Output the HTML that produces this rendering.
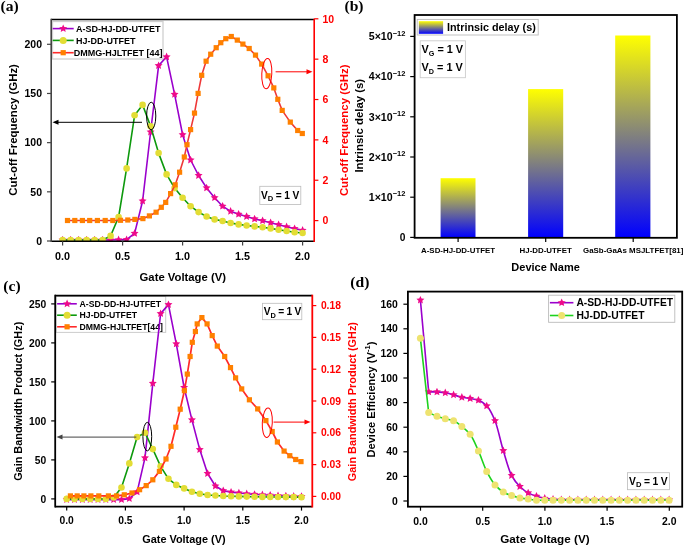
<!DOCTYPE html>
<html><head><meta charset="utf-8"><style>
html,body{margin:0;padding:0;background:#fff;}
svg{display:block;will-change:transform;}

</style></head><body>
<svg width="685" height="547" viewBox="0 0 685 547">
<rect width="685" height="547" fill="#fff"/>
<defs><clipPath id="ca"><rect x="51.20" y="19.60" width="263.00" height="221.60"/></clipPath></defs>
<rect x="52.50" y="21.50" width="110.50" height="37.50" fill="#ffffff" stroke="#d0d0d0" stroke-width="1.30"/>
<line x1="52.70" y1="28.60" x2="73.70" y2="28.60" stroke="#9a00cc" stroke-width="1.60"/>
<path d="M63.20,24.40 L64.38,26.97 L67.19,27.30 L65.12,29.22 L65.67,32.00 L63.20,30.62 L60.73,32.00 L61.28,29.22 L59.21,27.30 L62.02,26.97Z" fill="#ee0a8a"/>
<text x="75.90" y="31.90" font-size="9.00" font-family="Liberation Sans, sans-serif" font-weight="bold" fill="#000" text-anchor="start" >A-SD-HJ-DD-UTFET</text>
<line x1="52.70" y1="40.40" x2="73.70" y2="40.40" stroke="#0d990d" stroke-width="1.60"/>
<circle cx="63.20" cy="40.40" r="3.50" fill="#e3dd35"/>
<text x="75.90" y="43.70" font-size="9.00" font-family="Liberation Sans, sans-serif" font-weight="bold" fill="#000" text-anchor="start" >HJ-DD-UTFET</text>
<line x1="52.70" y1="52.70" x2="73.70" y2="52.70" stroke="#ff2a2a" stroke-width="1.60"/>
<rect x="60.60" y="50.10" width="5.20" height="5.20" fill="#ff8000"/>
<text x="73.70" y="56.00" font-size="9.00" font-family="Liberation Sans, sans-serif" font-weight="bold" fill="#000" text-anchor="start" >DMMG-HJLTFET [44]</text>
<g clip-path="url(#ca)">
<polyline points="62.60,240.00 70.60,240.00 78.60,240.00 86.60,240.00 94.60,240.00 102.60,240.00 110.60,240.00 118.60,239.80 126.60,239.60 134.60,233.40 142.60,201.00 150.60,132.00 158.60,65.60 166.60,56.80 174.60,94.30 182.60,134.70 190.60,160.00 198.60,175.50 206.60,187.90 214.60,197.70 222.60,206.20 230.60,211.30 238.60,214.20 246.60,216.50 254.60,218.90 262.60,220.70 270.60,222.70 278.60,224.70 286.60,226.80 294.60,228.60 302.60,230.30" fill="none" stroke="#9a00cc" stroke-width="1.60" stroke-linejoin="round"/>
<path d="M62.60,235.80 L63.78,238.37 L66.59,238.70 L64.52,240.62 L65.07,243.40 L62.60,242.02 L60.13,243.40 L60.68,240.62 L58.61,238.70 L61.42,238.37ZM70.60,235.80 L71.78,238.37 L74.59,238.70 L72.52,240.62 L73.07,243.40 L70.60,242.02 L68.13,243.40 L68.68,240.62 L66.61,238.70 L69.42,238.37ZM78.60,235.80 L79.78,238.37 L82.59,238.70 L80.52,240.62 L81.07,243.40 L78.60,242.02 L76.13,243.40 L76.68,240.62 L74.61,238.70 L77.42,238.37ZM86.60,235.80 L87.78,238.37 L90.59,238.70 L88.52,240.62 L89.07,243.40 L86.60,242.02 L84.13,243.40 L84.68,240.62 L82.61,238.70 L85.42,238.37ZM94.60,235.80 L95.78,238.37 L98.59,238.70 L96.52,240.62 L97.07,243.40 L94.60,242.02 L92.13,243.40 L92.68,240.62 L90.61,238.70 L93.42,238.37ZM102.60,235.80 L103.78,238.37 L106.59,238.70 L104.52,240.62 L105.07,243.40 L102.60,242.02 L100.13,243.40 L100.68,240.62 L98.61,238.70 L101.42,238.37ZM110.60,235.80 L111.78,238.37 L114.59,238.70 L112.52,240.62 L113.07,243.40 L110.60,242.02 L108.13,243.40 L108.68,240.62 L106.61,238.70 L109.42,238.37ZM118.60,235.60 L119.78,238.17 L122.59,238.50 L120.52,240.42 L121.07,243.20 L118.60,241.82 L116.13,243.20 L116.68,240.42 L114.61,238.50 L117.42,238.17ZM126.60,235.40 L127.78,237.97 L130.59,238.30 L128.52,240.22 L129.07,243.00 L126.60,241.62 L124.13,243.00 L124.68,240.22 L122.61,238.30 L125.42,237.97ZM134.60,229.20 L135.78,231.77 L138.59,232.10 L136.52,234.02 L137.07,236.80 L134.60,235.42 L132.13,236.80 L132.68,234.02 L130.61,232.10 L133.42,231.77ZM142.60,196.80 L143.78,199.37 L146.59,199.70 L144.52,201.62 L145.07,204.40 L142.60,203.02 L140.13,204.40 L140.68,201.62 L138.61,199.70 L141.42,199.37ZM150.60,127.80 L151.78,130.37 L154.59,130.70 L152.52,132.62 L153.07,135.40 L150.60,134.02 L148.13,135.40 L148.68,132.62 L146.61,130.70 L149.42,130.37ZM158.60,61.40 L159.78,63.97 L162.59,64.30 L160.52,66.22 L161.07,69.00 L158.60,67.62 L156.13,69.00 L156.68,66.22 L154.61,64.30 L157.42,63.97ZM166.60,52.60 L167.78,55.17 L170.59,55.50 L168.52,57.42 L169.07,60.20 L166.60,58.82 L164.13,60.20 L164.68,57.42 L162.61,55.50 L165.42,55.17ZM174.60,90.10 L175.78,92.67 L178.59,93.00 L176.52,94.92 L177.07,97.70 L174.60,96.32 L172.13,97.70 L172.68,94.92 L170.61,93.00 L173.42,92.67ZM182.60,130.50 L183.78,133.07 L186.59,133.40 L184.52,135.32 L185.07,138.10 L182.60,136.72 L180.13,138.10 L180.68,135.32 L178.61,133.40 L181.42,133.07ZM190.60,155.80 L191.78,158.37 L194.59,158.70 L192.52,160.62 L193.07,163.40 L190.60,162.02 L188.13,163.40 L188.68,160.62 L186.61,158.70 L189.42,158.37ZM198.60,171.30 L199.78,173.87 L202.59,174.20 L200.52,176.12 L201.07,178.90 L198.60,177.52 L196.13,178.90 L196.68,176.12 L194.61,174.20 L197.42,173.87ZM206.60,183.70 L207.78,186.27 L210.59,186.60 L208.52,188.52 L209.07,191.30 L206.60,189.92 L204.13,191.30 L204.68,188.52 L202.61,186.60 L205.42,186.27ZM214.60,193.50 L215.78,196.07 L218.59,196.40 L216.52,198.32 L217.07,201.10 L214.60,199.72 L212.13,201.10 L212.68,198.32 L210.61,196.40 L213.42,196.07ZM222.60,202.00 L223.78,204.57 L226.59,204.90 L224.52,206.82 L225.07,209.60 L222.60,208.22 L220.13,209.60 L220.68,206.82 L218.61,204.90 L221.42,204.57ZM230.60,207.10 L231.78,209.67 L234.59,210.00 L232.52,211.92 L233.07,214.70 L230.60,213.32 L228.13,214.70 L228.68,211.92 L226.61,210.00 L229.42,209.67ZM238.60,210.00 L239.78,212.57 L242.59,212.90 L240.52,214.82 L241.07,217.60 L238.60,216.22 L236.13,217.60 L236.68,214.82 L234.61,212.90 L237.42,212.57ZM246.60,212.30 L247.78,214.87 L250.59,215.20 L248.52,217.12 L249.07,219.90 L246.60,218.52 L244.13,219.90 L244.68,217.12 L242.61,215.20 L245.42,214.87ZM254.60,214.70 L255.78,217.27 L258.59,217.60 L256.52,219.52 L257.07,222.30 L254.60,220.92 L252.13,222.30 L252.68,219.52 L250.61,217.60 L253.42,217.27ZM262.60,216.50 L263.78,219.07 L266.59,219.40 L264.52,221.32 L265.07,224.10 L262.60,222.72 L260.13,224.10 L260.68,221.32 L258.61,219.40 L261.42,219.07ZM270.60,218.50 L271.78,221.07 L274.59,221.40 L272.52,223.32 L273.07,226.10 L270.60,224.72 L268.13,226.10 L268.68,223.32 L266.61,221.40 L269.42,221.07ZM278.60,220.50 L279.78,223.07 L282.59,223.40 L280.52,225.32 L281.07,228.10 L278.60,226.72 L276.13,228.10 L276.68,225.32 L274.61,223.40 L277.42,223.07ZM286.60,222.60 L287.78,225.17 L290.59,225.50 L288.52,227.42 L289.07,230.20 L286.60,228.82 L284.13,230.20 L284.68,227.42 L282.61,225.50 L285.42,225.17ZM294.60,224.40 L295.78,226.97 L298.59,227.30 L296.52,229.22 L297.07,232.00 L294.60,230.62 L292.13,232.00 L292.68,229.22 L290.61,227.30 L293.42,226.97ZM302.60,226.10 L303.78,228.67 L306.59,229.00 L304.52,230.92 L305.07,233.70 L302.60,232.32 L300.13,233.70 L300.68,230.92 L298.61,229.00 L301.42,228.67Z" fill="#ee0a8a"/>
<polyline points="62.60,240.00 70.60,240.00 78.60,240.00 86.60,240.00 94.60,240.00 102.60,240.00 110.60,235.90 118.60,217.00 126.60,168.40 134.60,115.30 142.60,104.90 150.60,126.30 158.60,153.10 166.60,174.40 174.60,188.10 182.60,197.70 190.60,206.20 198.60,212.10 206.60,216.50 214.60,219.40 222.60,221.00 230.60,223.00 238.60,224.40 246.60,225.50 254.60,226.40 262.60,227.30 270.60,228.40 278.60,229.70 286.60,231.00 294.60,232.30 302.60,233.00" fill="none" stroke="#0d990d" stroke-width="1.60" stroke-linejoin="round"/>
<circle cx="62.60" cy="240.00" r="3.30" fill="#e3dd35"/>
<circle cx="70.60" cy="240.00" r="3.30" fill="#e3dd35"/>
<circle cx="78.60" cy="240.00" r="3.30" fill="#e3dd35"/>
<circle cx="86.60" cy="240.00" r="3.30" fill="#e3dd35"/>
<circle cx="94.60" cy="240.00" r="3.30" fill="#e3dd35"/>
<circle cx="102.60" cy="240.00" r="3.30" fill="#e3dd35"/>
<circle cx="110.60" cy="235.90" r="3.30" fill="#e3dd35"/>
<circle cx="118.60" cy="217.00" r="3.30" fill="#e3dd35"/>
<circle cx="126.60" cy="168.40" r="3.30" fill="#e3dd35"/>
<circle cx="134.60" cy="115.30" r="3.30" fill="#e3dd35"/>
<circle cx="142.60" cy="104.90" r="3.30" fill="#e3dd35"/>
<circle cx="150.60" cy="126.30" r="3.30" fill="#e3dd35"/>
<circle cx="158.60" cy="153.10" r="3.30" fill="#e3dd35"/>
<circle cx="166.60" cy="174.40" r="3.30" fill="#e3dd35"/>
<circle cx="174.60" cy="188.10" r="3.30" fill="#e3dd35"/>
<circle cx="182.60" cy="197.70" r="3.30" fill="#e3dd35"/>
<circle cx="190.60" cy="206.20" r="3.30" fill="#e3dd35"/>
<circle cx="198.60" cy="212.10" r="3.30" fill="#e3dd35"/>
<circle cx="206.60" cy="216.50" r="3.30" fill="#e3dd35"/>
<circle cx="214.60" cy="219.40" r="3.30" fill="#e3dd35"/>
<circle cx="222.60" cy="221.00" r="3.30" fill="#e3dd35"/>
<circle cx="230.60" cy="223.00" r="3.30" fill="#e3dd35"/>
<circle cx="238.60" cy="224.40" r="3.30" fill="#e3dd35"/>
<circle cx="246.60" cy="225.50" r="3.30" fill="#e3dd35"/>
<circle cx="254.60" cy="226.40" r="3.30" fill="#e3dd35"/>
<circle cx="262.60" cy="227.30" r="3.30" fill="#e3dd35"/>
<circle cx="270.60" cy="228.40" r="3.30" fill="#e3dd35"/>
<circle cx="278.60" cy="229.70" r="3.30" fill="#e3dd35"/>
<circle cx="286.60" cy="231.00" r="3.30" fill="#e3dd35"/>
<circle cx="294.60" cy="232.30" r="3.30" fill="#e3dd35"/>
<circle cx="302.60" cy="233.00" r="3.30" fill="#e3dd35"/>
<polyline points="67.50,220.50 74.80,220.50 82.40,220.50 89.70,220.50 97.40,220.50 105.20,220.50 112.80,220.50 120.50,220.30 127.80,220.00 134.90,219.40 142.90,218.60 149.40,215.90 156.10,212.20 161.30,207.30 165.70,202.40 170.60,193.60 175.20,184.80 179.60,172.20 184.30,157.00 187.00,144.70 190.60,129.60 194.50,113.10 198.10,93.40 201.70,75.30 206.10,61.20 210.70,54.20 216.20,47.70 220.80,42.70 225.80,38.70 231.30,36.50 237.30,40.10 242.90,44.10 249.20,48.50 255.50,55.10 261.70,64.10 268.10,75.80 273.80,87.90 277.80,99.30 282.20,110.40 290.30,122.10 297.70,130.50 302.30,133.50" fill="none" stroke="#ee3838" stroke-width="1.60" stroke-linejoin="round"/>
<rect x="64.90" y="217.90" width="5.20" height="5.20" fill="#ff8000"/>
<rect x="72.20" y="217.90" width="5.20" height="5.20" fill="#ff8000"/>
<rect x="79.80" y="217.90" width="5.20" height="5.20" fill="#ff8000"/>
<rect x="87.10" y="217.90" width="5.20" height="5.20" fill="#ff8000"/>
<rect x="94.80" y="217.90" width="5.20" height="5.20" fill="#ff8000"/>
<rect x="102.60" y="217.90" width="5.20" height="5.20" fill="#ff8000"/>
<rect x="110.20" y="217.90" width="5.20" height="5.20" fill="#ff8000"/>
<rect x="117.90" y="217.70" width="5.20" height="5.20" fill="#ff8000"/>
<rect x="125.20" y="217.40" width="5.20" height="5.20" fill="#ff8000"/>
<rect x="132.30" y="216.80" width="5.20" height="5.20" fill="#ff8000"/>
<rect x="140.30" y="216.00" width="5.20" height="5.20" fill="#ff8000"/>
<rect x="146.80" y="213.30" width="5.20" height="5.20" fill="#ff8000"/>
<rect x="153.50" y="209.60" width="5.20" height="5.20" fill="#ff8000"/>
<rect x="158.70" y="204.70" width="5.20" height="5.20" fill="#ff8000"/>
<rect x="163.10" y="199.80" width="5.20" height="5.20" fill="#ff8000"/>
<rect x="168.00" y="191.00" width="5.20" height="5.20" fill="#ff8000"/>
<rect x="172.60" y="182.20" width="5.20" height="5.20" fill="#ff8000"/>
<rect x="177.00" y="169.60" width="5.20" height="5.20" fill="#ff8000"/>
<rect x="181.70" y="154.40" width="5.20" height="5.20" fill="#ff8000"/>
<rect x="184.40" y="142.10" width="5.20" height="5.20" fill="#ff8000"/>
<rect x="188.00" y="127.00" width="5.20" height="5.20" fill="#ff8000"/>
<rect x="191.90" y="110.50" width="5.20" height="5.20" fill="#ff8000"/>
<rect x="195.50" y="90.80" width="5.20" height="5.20" fill="#ff8000"/>
<rect x="199.10" y="72.70" width="5.20" height="5.20" fill="#ff8000"/>
<rect x="203.50" y="58.60" width="5.20" height="5.20" fill="#ff8000"/>
<rect x="208.10" y="51.60" width="5.20" height="5.20" fill="#ff8000"/>
<rect x="213.60" y="45.10" width="5.20" height="5.20" fill="#ff8000"/>
<rect x="218.20" y="40.10" width="5.20" height="5.20" fill="#ff8000"/>
<rect x="223.20" y="36.10" width="5.20" height="5.20" fill="#ff8000"/>
<rect x="228.70" y="33.90" width="5.20" height="5.20" fill="#ff8000"/>
<rect x="234.70" y="37.50" width="5.20" height="5.20" fill="#ff8000"/>
<rect x="240.30" y="41.50" width="5.20" height="5.20" fill="#ff8000"/>
<rect x="246.60" y="45.90" width="5.20" height="5.20" fill="#ff8000"/>
<rect x="252.90" y="52.50" width="5.20" height="5.20" fill="#ff8000"/>
<rect x="259.10" y="61.50" width="5.20" height="5.20" fill="#ff8000"/>
<rect x="265.50" y="73.20" width="5.20" height="5.20" fill="#ff8000"/>
<rect x="271.20" y="85.30" width="5.20" height="5.20" fill="#ff8000"/>
<rect x="275.20" y="96.70" width="5.20" height="5.20" fill="#ff8000"/>
<rect x="279.60" y="107.80" width="5.20" height="5.20" fill="#ff8000"/>
<rect x="287.70" y="119.50" width="5.20" height="5.20" fill="#ff8000"/>
<rect x="295.10" y="127.90" width="5.20" height="5.20" fill="#ff8000"/>
<rect x="299.70" y="130.90" width="5.20" height="5.20" fill="#ff8000"/>
</g>
<line x1="51.20" y1="19.60" x2="314.20" y2="19.60" stroke="#000" stroke-width="1.50"/>
<line x1="51.20" y1="241.20" x2="314.20" y2="241.20" stroke="#000" stroke-width="1.50"/>
<line x1="51.20" y1="18.85" x2="51.20" y2="241.95" stroke="#444" stroke-width="1.60"/>
<line x1="314.20" y1="18.85" x2="314.20" y2="241.95" stroke="#ff0000" stroke-width="1.60"/>
<line x1="47.00" y1="241.00" x2="51.20" y2="241.00" stroke="#444" stroke-width="1.20"/>
<text x="42.00" y="244.80" font-size="10.50" font-family="Liberation Sans, sans-serif" font-weight="bold" fill="#000" text-anchor="end" >0</text>
<line x1="47.00" y1="191.82" x2="51.20" y2="191.82" stroke="#444" stroke-width="1.20"/>
<text x="42.00" y="195.62" font-size="10.50" font-family="Liberation Sans, sans-serif" font-weight="bold" fill="#000" text-anchor="end" >50</text>
<line x1="47.00" y1="142.65" x2="51.20" y2="142.65" stroke="#444" stroke-width="1.20"/>
<text x="42.00" y="146.45" font-size="10.50" font-family="Liberation Sans, sans-serif" font-weight="bold" fill="#000" text-anchor="end" >100</text>
<line x1="47.00" y1="93.47" x2="51.20" y2="93.47" stroke="#444" stroke-width="1.20"/>
<text x="42.00" y="97.27" font-size="10.50" font-family="Liberation Sans, sans-serif" font-weight="bold" fill="#000" text-anchor="end" >150</text>
<line x1="47.00" y1="44.30" x2="51.20" y2="44.30" stroke="#444" stroke-width="1.20"/>
<text x="42.00" y="48.10" font-size="10.50" font-family="Liberation Sans, sans-serif" font-weight="bold" fill="#000" text-anchor="end" >200</text>
<line x1="314.20" y1="220.60" x2="318.40" y2="220.60" stroke="#ff0000" stroke-width="1.20"/>
<text x="322.50" y="224.40" font-size="10.50" font-family="Liberation Sans, sans-serif" font-weight="bold" fill="#ff0000" text-anchor="start" >0</text>
<line x1="314.20" y1="180.24" x2="318.40" y2="180.24" stroke="#ff0000" stroke-width="1.20"/>
<text x="322.50" y="184.04" font-size="10.50" font-family="Liberation Sans, sans-serif" font-weight="bold" fill="#ff0000" text-anchor="start" >2</text>
<line x1="314.20" y1="139.88" x2="318.40" y2="139.88" stroke="#ff0000" stroke-width="1.20"/>
<text x="322.50" y="143.68" font-size="10.50" font-family="Liberation Sans, sans-serif" font-weight="bold" fill="#ff0000" text-anchor="start" >4</text>
<line x1="314.20" y1="99.52" x2="318.40" y2="99.52" stroke="#ff0000" stroke-width="1.20"/>
<text x="322.50" y="103.32" font-size="10.50" font-family="Liberation Sans, sans-serif" font-weight="bold" fill="#ff0000" text-anchor="start" >6</text>
<line x1="314.20" y1="59.16" x2="318.40" y2="59.16" stroke="#ff0000" stroke-width="1.20"/>
<text x="322.50" y="62.96" font-size="10.50" font-family="Liberation Sans, sans-serif" font-weight="bold" fill="#ff0000" text-anchor="start" >8</text>
<line x1="314.20" y1="18.80" x2="318.40" y2="18.80" stroke="#ff0000" stroke-width="1.20"/>
<text x="322.50" y="22.60" font-size="10.50" font-family="Liberation Sans, sans-serif" font-weight="bold" fill="#ff0000" text-anchor="start" >10</text>
<line x1="62.60" y1="241.20" x2="62.60" y2="245.50" stroke="#444" stroke-width="1.20"/>
<text x="62.60" y="259.70" font-size="10.80" font-family="Liberation Sans, sans-serif" font-weight="bold" fill="#000" text-anchor="middle" >0.0</text>
<line x1="122.60" y1="241.20" x2="122.60" y2="245.50" stroke="#444" stroke-width="1.20"/>
<text x="122.60" y="259.70" font-size="10.80" font-family="Liberation Sans, sans-serif" font-weight="bold" fill="#000" text-anchor="middle" >0.5</text>
<line x1="182.60" y1="241.20" x2="182.60" y2="245.50" stroke="#444" stroke-width="1.20"/>
<text x="182.60" y="259.70" font-size="10.80" font-family="Liberation Sans, sans-serif" font-weight="bold" fill="#000" text-anchor="middle" >1.0</text>
<line x1="242.60" y1="241.20" x2="242.60" y2="245.50" stroke="#444" stroke-width="1.20"/>
<text x="242.60" y="259.70" font-size="10.80" font-family="Liberation Sans, sans-serif" font-weight="bold" fill="#000" text-anchor="middle" >1.5</text>
<line x1="302.60" y1="241.20" x2="302.60" y2="245.50" stroke="#444" stroke-width="1.20"/>
<text x="302.60" y="259.70" font-size="10.80" font-family="Liberation Sans, sans-serif" font-weight="bold" fill="#000" text-anchor="middle" >2.0</text>
<text x="182.80" y="280.60" font-size="11.30" font-family="Liberation Sans, sans-serif" font-weight="bold" fill="#000" text-anchor="middle" >Gate Voltage (V)</text>
<text x="0" y="0" font-size="11.40" font-family="Liberation Sans, sans-serif" font-weight="bold" fill="#000" text-anchor="middle" transform="translate(16.80,129.90) rotate(-90)">Cut-off Frequency (GHz)</text>
<text x="0" y="0" font-size="11.40" font-family="Liberation Sans, sans-serif" font-weight="bold" fill="#ff0000" text-anchor="middle" transform="translate(348.30,130.30) rotate(-90)">Cut-off Frequency (GHz)</text>
<text x="0.50" y="11.00" font-size="15.60" font-family="Liberation Serif, serif" font-weight="bold" fill="#000" text-anchor="start" >(a)</text>
<rect x="259.80" y="186.30" width="41.00" height="18.10" fill="#ffffff" stroke="#bbbbbb" stroke-width="0.80"/>
<text x="260.90" y="198.60" font-size="10.20" font-family="Liberation Sans, sans-serif" font-weight="bold" fill="#000" text-anchor="start" word-spacing="-0.3">V<tspan font-size="7.6" dy="2.8">D</tspan><tspan dy="-2.8"> = 1 V</tspan></text>
<ellipse cx="151.2" cy="116" rx="4.6" ry="13.8" fill="none" stroke="#000" stroke-width="1"/>
<line x1="56.00" y1="122.30" x2="142.00" y2="122.30" stroke="#000" stroke-width="1.00"/>
<path d="M52.5,122.3 L58.5,119.8 L58.5,124.8Z" fill="#000"/>
<ellipse cx="266.8" cy="73.7" rx="5.0" ry="15.1" fill="none" stroke="#ff0000" stroke-width="1" transform="rotate(3 266.8 73.7)"/>
<line x1="275.60" y1="71.80" x2="308.00" y2="71.80" stroke="#ff0000" stroke-width="1.00"/>
<path d="M312.5,71.8 L306.5,69.3 L306.5,74.3Z" fill="#ff0000"/>
<defs><linearGradient id="gb" x1="0" y1="0" x2="0" y2="1"><stop offset="0" stop-color="#ffff00"/><stop offset="1" stop-color="#0000ff"/></linearGradient></defs>
<rect x="440.60" y="178.20" width="34.90" height="59.60" fill="url(#gb)" stroke="none" stroke-width="1.00"/>
<rect x="528.10" y="89.10" width="35.10" height="148.70" fill="url(#gb)" stroke="none" stroke-width="1.00"/>
<rect x="615.20" y="35.50" width="35.20" height="202.30" fill="url(#gb)" stroke="none" stroke-width="1.00"/>
<rect x="414.60" y="15.00" width="262.30" height="222.80" fill="none" stroke="#000" stroke-width="1.8"/>
<line x1="410.20" y1="237.40" x2="414.60" y2="237.40" stroke="#000" stroke-width="1.20"/>
<text x="405.40" y="240.90" font-size="10.20" font-family="Liberation Sans, sans-serif" font-weight="bold" fill="#000" text-anchor="end" >0</text>
<line x1="410.20" y1="197.20" x2="414.60" y2="197.20" stroke="#000" stroke-width="1.20"/>
<text x="405.40" y="201.00" font-size="10.60" font-family="Liberation Sans, sans-serif" font-weight="bold" fill="#000" text-anchor="end" >1&#215;10<tspan font-size="7.5" dy="-4.6">&#8722;12</tspan></text>
<line x1="410.20" y1="157.00" x2="414.60" y2="157.00" stroke="#000" stroke-width="1.20"/>
<text x="405.40" y="160.80" font-size="10.60" font-family="Liberation Sans, sans-serif" font-weight="bold" fill="#000" text-anchor="end" >2&#215;10<tspan font-size="7.5" dy="-4.6">&#8722;12</tspan></text>
<line x1="410.20" y1="116.80" x2="414.60" y2="116.80" stroke="#000" stroke-width="1.20"/>
<text x="405.40" y="120.60" font-size="10.60" font-family="Liberation Sans, sans-serif" font-weight="bold" fill="#000" text-anchor="end" >3&#215;10<tspan font-size="7.5" dy="-4.6">&#8722;12</tspan></text>
<line x1="410.20" y1="76.60" x2="414.60" y2="76.60" stroke="#000" stroke-width="1.20"/>
<text x="405.40" y="80.40" font-size="10.60" font-family="Liberation Sans, sans-serif" font-weight="bold" fill="#000" text-anchor="end" >4&#215;10<tspan font-size="7.5" dy="-4.6">&#8722;12</tspan></text>
<line x1="410.20" y1="36.40" x2="414.60" y2="36.40" stroke="#000" stroke-width="1.20"/>
<text x="405.40" y="40.20" font-size="10.60" font-family="Liberation Sans, sans-serif" font-weight="bold" fill="#000" text-anchor="end" >5&#215;10<tspan font-size="7.5" dy="-4.6">&#8722;12</tspan></text>
<line x1="458.10" y1="237.80" x2="458.10" y2="242.00" stroke="#000" stroke-width="1.20"/>
<text x="458.10" y="252.90" font-size="7.90" font-family="Liberation Sans, sans-serif" font-weight="bold" fill="#000" text-anchor="middle" >A-SD-HJ-DD-UTFET</text>
<line x1="545.70" y1="237.80" x2="545.70" y2="242.00" stroke="#000" stroke-width="1.20"/>
<text x="545.70" y="252.90" font-size="7.90" font-family="Liberation Sans, sans-serif" font-weight="bold" fill="#000" text-anchor="middle" >HJ-DD-UTFET</text>
<line x1="633.20" y1="237.80" x2="633.20" y2="242.00" stroke="#000" stroke-width="1.20"/>
<text x="633.20" y="252.90" font-size="7.90" font-family="Liberation Sans, sans-serif" font-weight="bold" fill="#000" text-anchor="middle" >GaSb-GaAs MSJLTFET[81]</text>
<text x="545.60" y="271.30" font-size="11.00" font-family="Liberation Sans, sans-serif" font-weight="bold" fill="#000" text-anchor="middle" >Device Name</text>
<text x="0" y="0" font-size="11.40" font-family="Liberation Sans, sans-serif" font-weight="bold" fill="#000" text-anchor="middle" transform="translate(363.20,125.70) rotate(-90)">Intrinsic delay (s)</text>
<text x="344.50" y="11.00" font-size="15.60" font-family="Liberation Serif, serif" font-weight="bold" fill="#000" text-anchor="start" >(b)</text>
<rect x="417.20" y="19.40" width="121.00" height="15.60" fill="#ffffff" stroke="#bbbbbb" stroke-width="0.90"/>
<rect x="418.80" y="21.20" width="24.30" height="12.60" fill="url(#gb)" stroke="none" stroke-width="1.00"/>
<text x="447.00" y="31.10" font-size="10.80" font-family="Liberation Sans, sans-serif" font-weight="bold" fill="#000" text-anchor="start" >Intrinsic delay (s)</text>
<rect x="420.20" y="40.80" width="45.20" height="36.90" fill="#ffffff" stroke="#cccccc" stroke-width="0.90"/>
<text x="421.50" y="52.80" font-size="10.90" font-family="Liberation Sans, sans-serif" font-weight="bold" fill="#000" text-anchor="start" >V<tspan font-size="7.2" dy="2.8">G</tspan><tspan dy="-2.8"> = 1 V</tspan></text>
<text x="421.50" y="70.90" font-size="10.90" font-family="Liberation Sans, sans-serif" font-weight="bold" fill="#000" text-anchor="start" >V<tspan font-size="7.2" dy="2.8">D</tspan><tspan dy="-2.8"> = 1 V</tspan></text>
<defs><clipPath id="cc"><rect x="55.20" y="295.60" width="257.10" height="211.00"/></clipPath></defs>
<rect x="56.20" y="296.40" width="109.50" height="36.00" fill="#ffffff" stroke="#cccccc" stroke-width="1.00"/>
<line x1="57.10" y1="303.80" x2="76.80" y2="303.80" stroke="#9a00cc" stroke-width="1.60"/>
<path d="M67.10,299.60 L68.28,302.17 L71.09,302.50 L69.02,304.42 L69.57,307.20 L67.10,305.82 L64.63,307.20 L65.18,304.42 L63.11,302.50 L65.92,302.17Z" fill="#ee0a8a"/>
<text x="79.60" y="307.00" font-size="8.70" font-family="Liberation Sans, sans-serif" font-weight="bold" fill="#000" text-anchor="start" >A-SD-DD-HJ-UTFET</text>
<line x1="57.10" y1="315.20" x2="76.80" y2="315.20" stroke="#0d990d" stroke-width="1.60"/>
<circle cx="67.10" cy="315.20" r="3.50" fill="#e3dd35"/>
<text x="79.60" y="318.40" font-size="8.70" font-family="Liberation Sans, sans-serif" font-weight="bold" fill="#000" text-anchor="start" >HJ-DD-UTFET</text>
<line x1="57.10" y1="326.80" x2="76.80" y2="326.80" stroke="#ff2a2a" stroke-width="1.60"/>
<rect x="64.50" y="324.20" width="5.20" height="5.20" fill="#ff8000"/>
<text x="79.60" y="330.00" font-size="8.70" font-family="Liberation Sans, sans-serif" font-weight="bold" fill="#000" text-anchor="start" >DMMG-HJLTFET[44]</text>
<g clip-path="url(#cc)">
<polyline points="66.70,499.60 74.53,499.60 82.35,499.60 90.18,499.60 98.01,499.60 105.84,499.60 113.66,499.60 121.49,499.60 129.32,498.60 137.14,491.90 144.97,457.90 152.80,383.30 160.62,313.60 168.45,304.60 176.28,343.90 184.11,387.50 191.93,419.90 199.76,449.60 207.59,473.50 215.41,486.00 223.24,490.70 231.07,492.10 238.89,493.00 246.72,493.80 254.55,494.40 262.38,494.80 270.20,495.20 278.03,495.60 285.86,496.00 293.68,496.30 301.51,496.50" fill="none" stroke="#9a00cc" stroke-width="1.60" stroke-linejoin="round"/>
<path d="M66.70,495.40 L67.88,497.97 L70.69,498.30 L68.62,500.22 L69.17,503.00 L66.70,501.62 L64.23,503.00 L64.78,500.22 L62.71,498.30 L65.52,497.97ZM74.53,495.40 L75.71,497.97 L78.52,498.30 L76.44,500.22 L77.00,503.00 L74.53,501.62 L72.06,503.00 L72.61,500.22 L70.53,498.30 L73.34,497.97ZM82.35,495.40 L83.54,497.97 L86.35,498.30 L84.27,500.22 L84.82,503.00 L82.35,501.62 L79.89,503.00 L80.44,500.22 L78.36,498.30 L81.17,497.97ZM90.18,495.40 L91.37,497.97 L94.18,498.30 L92.10,500.22 L92.65,503.00 L90.18,501.62 L87.71,503.00 L88.26,500.22 L86.19,498.30 L89.00,497.97ZM98.01,495.40 L99.19,497.97 L102.00,498.30 L99.93,500.22 L100.48,503.00 L98.01,501.62 L95.54,503.00 L96.09,500.22 L94.01,498.30 L96.82,497.97ZM105.84,495.40 L107.02,497.97 L109.83,498.30 L107.75,500.22 L108.30,503.00 L105.84,501.62 L103.37,503.00 L103.92,500.22 L101.84,498.30 L104.65,497.97ZM113.66,495.40 L114.85,497.97 L117.66,498.30 L115.58,500.22 L116.13,503.00 L113.66,501.62 L111.19,503.00 L111.74,500.22 L109.67,498.30 L112.48,497.97ZM121.49,495.40 L122.67,497.97 L125.48,498.30 L123.41,500.22 L123.96,503.00 L121.49,501.62 L119.02,503.00 L119.57,500.22 L117.49,498.30 L120.30,497.97ZM129.32,494.40 L130.50,496.97 L133.31,497.30 L131.23,499.22 L131.78,502.00 L129.32,500.62 L126.85,502.00 L127.40,499.22 L125.32,497.30 L128.13,496.97ZM137.14,487.70 L138.33,490.27 L141.14,490.60 L139.06,492.52 L139.61,495.30 L137.14,493.92 L134.67,495.30 L135.23,492.52 L133.15,490.60 L135.96,490.27ZM144.97,453.70 L146.15,456.27 L148.96,456.60 L146.89,458.52 L147.44,461.30 L144.97,459.92 L142.50,461.30 L143.05,458.52 L140.98,456.60 L143.79,456.27ZM152.80,379.10 L153.98,381.67 L156.79,382.00 L154.71,383.92 L155.27,386.70 L152.80,385.32 L150.33,386.70 L150.88,383.92 L148.80,382.00 L151.61,381.67ZM160.62,309.40 L161.81,311.97 L164.62,312.30 L162.54,314.22 L163.09,317.00 L160.62,315.62 L158.16,317.00 L158.71,314.22 L156.63,312.30 L159.44,311.97ZM168.45,300.40 L169.64,302.97 L172.45,303.30 L170.37,305.22 L170.92,308.00 L168.45,306.62 L165.98,308.00 L166.53,305.22 L164.46,303.30 L167.27,302.97ZM176.28,339.70 L177.46,342.27 L180.27,342.60 L178.20,344.52 L178.75,347.30 L176.28,345.92 L173.81,347.30 L174.36,344.52 L172.28,342.60 L175.09,342.27ZM184.11,383.30 L185.29,385.87 L188.10,386.20 L186.02,388.12 L186.57,390.90 L184.11,389.52 L181.64,390.90 L182.19,388.12 L180.11,386.20 L182.92,385.87ZM191.93,415.70 L193.12,418.27 L195.93,418.60 L193.85,420.52 L194.40,423.30 L191.93,421.92 L189.46,423.30 L190.01,420.52 L187.94,418.60 L190.75,418.27ZM199.76,445.40 L200.94,447.97 L203.75,448.30 L201.68,450.22 L202.23,453.00 L199.76,451.62 L197.29,453.00 L197.84,450.22 L195.76,448.30 L198.57,447.97ZM207.59,469.30 L208.77,471.87 L211.58,472.20 L209.50,474.12 L210.05,476.90 L207.59,475.52 L205.12,476.90 L205.67,474.12 L203.59,472.20 L206.40,471.87ZM215.41,481.80 L216.60,484.37 L219.41,484.70 L217.33,486.62 L217.88,489.40 L215.41,488.02 L212.94,489.40 L213.50,486.62 L211.42,484.70 L214.23,484.37ZM223.24,486.50 L224.42,489.07 L227.23,489.40 L225.16,491.32 L225.71,494.10 L223.24,492.72 L220.77,494.10 L221.32,491.32 L219.25,489.40 L222.06,489.07ZM231.07,487.90 L232.25,490.47 L235.06,490.80 L232.98,492.72 L233.54,495.50 L231.07,494.12 L228.60,495.50 L229.15,492.72 L227.07,490.80 L229.88,490.47ZM238.89,488.80 L240.08,491.37 L242.89,491.70 L240.81,493.62 L241.36,496.40 L238.89,495.02 L236.43,496.40 L236.98,493.62 L234.90,491.70 L237.71,491.37ZM246.72,489.60 L247.91,492.17 L250.72,492.50 L248.64,494.42 L249.19,497.20 L246.72,495.82 L244.25,497.20 L244.80,494.42 L242.73,492.50 L245.54,492.17ZM254.55,490.20 L255.73,492.77 L258.54,493.10 L256.47,495.02 L257.02,497.80 L254.55,496.42 L252.08,497.80 L252.63,495.02 L250.55,493.10 L253.36,492.77ZM262.38,490.60 L263.56,493.17 L266.37,493.50 L264.29,495.42 L264.84,498.20 L262.38,496.82 L259.91,498.20 L260.46,495.42 L258.38,493.50 L261.19,493.17ZM270.20,491.00 L271.39,493.57 L274.20,493.90 L272.12,495.82 L272.67,498.60 L270.20,497.22 L267.73,498.60 L268.28,495.82 L266.21,493.90 L269.02,493.57ZM278.03,491.40 L279.21,493.97 L282.02,494.30 L279.95,496.22 L280.50,499.00 L278.03,497.62 L275.56,499.00 L276.11,496.22 L274.03,494.30 L276.84,493.97ZM285.86,491.80 L287.04,494.37 L289.85,494.70 L287.77,496.62 L288.32,499.40 L285.86,498.02 L283.39,499.40 L283.94,496.62 L281.86,494.70 L284.67,494.37ZM293.68,492.10 L294.87,494.67 L297.68,495.00 L295.60,496.92 L296.15,499.70 L293.68,498.32 L291.21,499.70 L291.77,496.92 L289.69,495.00 L292.50,494.67ZM301.51,492.30 L302.69,494.87 L305.50,495.20 L303.43,497.12 L303.98,499.90 L301.51,498.52 L299.04,499.90 L299.59,497.12 L297.52,495.20 L300.33,494.87Z" fill="#ee0a8a"/>
<polyline points="66.70,498.90 74.53,498.90 82.35,498.90 90.18,498.90 98.01,498.90 105.84,498.90 113.66,497.50 121.49,487.50 129.32,463.40 137.14,437.10 144.97,432.70 152.80,449.10 160.62,466.30 168.45,478.80 176.28,484.90 184.11,488.40 191.93,491.80 199.76,493.80 207.59,495.00 215.41,495.50 223.24,496.00 231.07,496.20 238.89,496.40 246.72,496.60 254.55,496.80 262.38,496.90 270.20,497.00 278.03,497.00 285.86,497.10 293.68,497.10 301.51,497.20" fill="none" stroke="#0d990d" stroke-width="1.60" stroke-linejoin="round"/>
<circle cx="66.70" cy="498.90" r="3.30" fill="#e3dd35"/>
<circle cx="74.53" cy="498.90" r="3.30" fill="#e3dd35"/>
<circle cx="82.35" cy="498.90" r="3.30" fill="#e3dd35"/>
<circle cx="90.18" cy="498.90" r="3.30" fill="#e3dd35"/>
<circle cx="98.01" cy="498.90" r="3.30" fill="#e3dd35"/>
<circle cx="105.84" cy="498.90" r="3.30" fill="#e3dd35"/>
<circle cx="113.66" cy="497.50" r="3.30" fill="#e3dd35"/>
<circle cx="121.49" cy="487.50" r="3.30" fill="#e3dd35"/>
<circle cx="129.32" cy="463.40" r="3.30" fill="#e3dd35"/>
<circle cx="137.14" cy="437.10" r="3.30" fill="#e3dd35"/>
<circle cx="144.97" cy="432.70" r="3.30" fill="#e3dd35"/>
<circle cx="152.80" cy="449.10" r="3.30" fill="#e3dd35"/>
<circle cx="160.62" cy="466.30" r="3.30" fill="#e3dd35"/>
<circle cx="168.45" cy="478.80" r="3.30" fill="#e3dd35"/>
<circle cx="176.28" cy="484.90" r="3.30" fill="#e3dd35"/>
<circle cx="184.11" cy="488.40" r="3.30" fill="#e3dd35"/>
<circle cx="191.93" cy="491.80" r="3.30" fill="#e3dd35"/>
<circle cx="199.76" cy="493.80" r="3.30" fill="#e3dd35"/>
<circle cx="207.59" cy="495.00" r="3.30" fill="#e3dd35"/>
<circle cx="215.41" cy="495.50" r="3.30" fill="#e3dd35"/>
<circle cx="223.24" cy="496.00" r="3.30" fill="#e3dd35"/>
<circle cx="231.07" cy="496.20" r="3.30" fill="#e3dd35"/>
<circle cx="238.89" cy="496.40" r="3.30" fill="#e3dd35"/>
<circle cx="246.72" cy="496.60" r="3.30" fill="#e3dd35"/>
<circle cx="254.55" cy="496.80" r="3.30" fill="#e3dd35"/>
<circle cx="262.38" cy="496.90" r="3.30" fill="#e3dd35"/>
<circle cx="270.20" cy="497.00" r="3.30" fill="#e3dd35"/>
<circle cx="278.03" cy="497.00" r="3.30" fill="#e3dd35"/>
<circle cx="285.86" cy="497.10" r="3.30" fill="#e3dd35"/>
<circle cx="293.68" cy="497.10" r="3.30" fill="#e3dd35"/>
<circle cx="301.51" cy="497.20" r="3.30" fill="#e3dd35"/>
<polyline points="70.40,495.90 77.20,495.90 83.90,495.90 90.90,495.90 98.80,495.90 108.40,495.90 116.60,495.90 124.30,494.80 132.00,493.00 139.60,489.70 146.20,485.60 152.80,479.80 159.40,471.40 166.00,459.00 171.00,446.30 175.80,427.20 180.20,409.20 184.40,390.70 187.30,374.10 190.10,356.50 192.30,342.30 195.40,331.50 197.20,323.90 201.90,317.60 207.10,323.90 212.20,335.60 217.30,346.10 224.70,356.50 230.50,367.60 235.60,377.90 241.70,388.90 249.40,399.80 257.70,408.90 265.90,420.60 272.20,431.50 277.40,442.00 284.10,451.10 289.80,455.70 295.70,459.50 301.00,461.60" fill="none" stroke="#ff2a2a" stroke-width="1.70" stroke-linejoin="round"/>
<rect x="67.80" y="493.30" width="5.20" height="5.20" fill="#ff8000"/>
<rect x="74.60" y="493.30" width="5.20" height="5.20" fill="#ff8000"/>
<rect x="81.30" y="493.30" width="5.20" height="5.20" fill="#ff8000"/>
<rect x="88.30" y="493.30" width="5.20" height="5.20" fill="#ff8000"/>
<rect x="96.20" y="493.30" width="5.20" height="5.20" fill="#ff8000"/>
<rect x="105.80" y="493.30" width="5.20" height="5.20" fill="#ff8000"/>
<rect x="114.00" y="493.30" width="5.20" height="5.20" fill="#ff8000"/>
<rect x="121.70" y="492.20" width="5.20" height="5.20" fill="#ff8000"/>
<rect x="129.40" y="490.40" width="5.20" height="5.20" fill="#ff8000"/>
<rect x="137.00" y="487.10" width="5.20" height="5.20" fill="#ff8000"/>
<rect x="143.60" y="483.00" width="5.20" height="5.20" fill="#ff8000"/>
<rect x="150.20" y="477.20" width="5.20" height="5.20" fill="#ff8000"/>
<rect x="156.80" y="468.80" width="5.20" height="5.20" fill="#ff8000"/>
<rect x="163.40" y="456.40" width="5.20" height="5.20" fill="#ff8000"/>
<rect x="168.40" y="443.70" width="5.20" height="5.20" fill="#ff8000"/>
<rect x="173.20" y="424.60" width="5.20" height="5.20" fill="#ff8000"/>
<rect x="177.60" y="406.60" width="5.20" height="5.20" fill="#ff8000"/>
<rect x="181.80" y="388.10" width="5.20" height="5.20" fill="#ff8000"/>
<rect x="184.70" y="371.50" width="5.20" height="5.20" fill="#ff8000"/>
<rect x="187.50" y="353.90" width="5.20" height="5.20" fill="#ff8000"/>
<rect x="189.70" y="339.70" width="5.20" height="5.20" fill="#ff8000"/>
<rect x="192.80" y="328.90" width="5.20" height="5.20" fill="#ff8000"/>
<rect x="194.60" y="321.30" width="5.20" height="5.20" fill="#ff8000"/>
<rect x="199.30" y="315.00" width="5.20" height="5.20" fill="#ff8000"/>
<rect x="204.50" y="321.30" width="5.20" height="5.20" fill="#ff8000"/>
<rect x="209.60" y="333.00" width="5.20" height="5.20" fill="#ff8000"/>
<rect x="214.70" y="343.50" width="5.20" height="5.20" fill="#ff8000"/>
<rect x="222.10" y="353.90" width="5.20" height="5.20" fill="#ff8000"/>
<rect x="227.90" y="365.00" width="5.20" height="5.20" fill="#ff8000"/>
<rect x="233.00" y="375.30" width="5.20" height="5.20" fill="#ff8000"/>
<rect x="239.10" y="386.30" width="5.20" height="5.20" fill="#ff8000"/>
<rect x="246.80" y="397.20" width="5.20" height="5.20" fill="#ff8000"/>
<rect x="255.10" y="406.30" width="5.20" height="5.20" fill="#ff8000"/>
<rect x="263.30" y="418.00" width="5.20" height="5.20" fill="#ff8000"/>
<rect x="269.60" y="428.90" width="5.20" height="5.20" fill="#ff8000"/>
<rect x="274.80" y="439.40" width="5.20" height="5.20" fill="#ff8000"/>
<rect x="281.50" y="448.50" width="5.20" height="5.20" fill="#ff8000"/>
<rect x="287.20" y="453.10" width="5.20" height="5.20" fill="#ff8000"/>
<rect x="293.10" y="456.90" width="5.20" height="5.20" fill="#ff8000"/>
<rect x="298.40" y="459.00" width="5.20" height="5.20" fill="#ff8000"/>
</g>
<line x1="55.20" y1="295.60" x2="312.30" y2="295.60" stroke="#000" stroke-width="1.80"/>
<line x1="55.20" y1="506.60" x2="312.30" y2="506.60" stroke="#000" stroke-width="1.80"/>
<line x1="55.20" y1="294.70" x2="55.20" y2="507.50" stroke="#000" stroke-width="1.80"/>
<line x1="312.30" y1="294.70" x2="312.30" y2="507.50" stroke="#ff0000" stroke-width="1.80"/>
<line x1="51.20" y1="498.90" x2="55.20" y2="498.90" stroke="#000" stroke-width="1.20"/>
<text x="46.30" y="502.50" font-size="10.30" font-family="Liberation Sans, sans-serif" font-weight="bold" fill="#000" text-anchor="end" >0</text>
<line x1="51.20" y1="459.90" x2="55.20" y2="459.90" stroke="#000" stroke-width="1.20"/>
<text x="46.30" y="463.50" font-size="10.30" font-family="Liberation Sans, sans-serif" font-weight="bold" fill="#000" text-anchor="end" >50</text>
<line x1="51.20" y1="420.90" x2="55.20" y2="420.90" stroke="#000" stroke-width="1.20"/>
<text x="46.30" y="424.50" font-size="10.30" font-family="Liberation Sans, sans-serif" font-weight="bold" fill="#000" text-anchor="end" >100</text>
<line x1="51.20" y1="381.90" x2="55.20" y2="381.90" stroke="#000" stroke-width="1.20"/>
<text x="46.30" y="385.50" font-size="10.30" font-family="Liberation Sans, sans-serif" font-weight="bold" fill="#000" text-anchor="end" >150</text>
<line x1="51.20" y1="342.90" x2="55.20" y2="342.90" stroke="#000" stroke-width="1.20"/>
<text x="46.30" y="346.50" font-size="10.30" font-family="Liberation Sans, sans-serif" font-weight="bold" fill="#000" text-anchor="end" >200</text>
<line x1="51.20" y1="303.90" x2="55.20" y2="303.90" stroke="#000" stroke-width="1.20"/>
<text x="46.30" y="307.50" font-size="10.30" font-family="Liberation Sans, sans-serif" font-weight="bold" fill="#000" text-anchor="end" >250</text>
<line x1="312.30" y1="496.40" x2="316.30" y2="496.40" stroke="#ff0000" stroke-width="1.20"/>
<text x="320.90" y="500.00" font-size="10.30" font-family="Liberation Sans, sans-serif" font-weight="bold" fill="#ff0000" text-anchor="start" >0.00</text>
<line x1="312.30" y1="464.60" x2="316.30" y2="464.60" stroke="#ff0000" stroke-width="1.20"/>
<text x="320.90" y="468.20" font-size="10.30" font-family="Liberation Sans, sans-serif" font-weight="bold" fill="#ff0000" text-anchor="start" >0.03</text>
<line x1="312.30" y1="432.80" x2="316.30" y2="432.80" stroke="#ff0000" stroke-width="1.20"/>
<text x="320.90" y="436.40" font-size="10.30" font-family="Liberation Sans, sans-serif" font-weight="bold" fill="#ff0000" text-anchor="start" >0.06</text>
<line x1="312.30" y1="401.00" x2="316.30" y2="401.00" stroke="#ff0000" stroke-width="1.20"/>
<text x="320.90" y="404.60" font-size="10.30" font-family="Liberation Sans, sans-serif" font-weight="bold" fill="#ff0000" text-anchor="start" >0.09</text>
<line x1="312.30" y1="369.20" x2="316.30" y2="369.20" stroke="#ff0000" stroke-width="1.20"/>
<text x="320.90" y="372.80" font-size="10.30" font-family="Liberation Sans, sans-serif" font-weight="bold" fill="#ff0000" text-anchor="start" >0.12</text>
<line x1="312.30" y1="337.40" x2="316.30" y2="337.40" stroke="#ff0000" stroke-width="1.20"/>
<text x="320.90" y="341.00" font-size="10.30" font-family="Liberation Sans, sans-serif" font-weight="bold" fill="#ff0000" text-anchor="start" >0.15</text>
<line x1="312.30" y1="305.60" x2="316.30" y2="305.60" stroke="#ff0000" stroke-width="1.20"/>
<text x="320.90" y="309.20" font-size="10.30" font-family="Liberation Sans, sans-serif" font-weight="bold" fill="#ff0000" text-anchor="start" >0.18</text>
<line x1="66.70" y1="506.60" x2="66.70" y2="510.60" stroke="#000" stroke-width="1.20"/>
<text x="66.70" y="523.90" font-size="10.30" font-family="Liberation Sans, sans-serif" font-weight="bold" fill="#000" text-anchor="middle" >0.0</text>
<line x1="125.40" y1="506.60" x2="125.40" y2="510.60" stroke="#000" stroke-width="1.20"/>
<text x="125.40" y="523.90" font-size="10.30" font-family="Liberation Sans, sans-serif" font-weight="bold" fill="#000" text-anchor="middle" >0.5</text>
<line x1="184.10" y1="506.60" x2="184.10" y2="510.60" stroke="#000" stroke-width="1.20"/>
<text x="184.10" y="523.90" font-size="10.30" font-family="Liberation Sans, sans-serif" font-weight="bold" fill="#000" text-anchor="middle" >1.0</text>
<line x1="242.80" y1="506.60" x2="242.80" y2="510.60" stroke="#000" stroke-width="1.20"/>
<text x="242.80" y="523.90" font-size="10.30" font-family="Liberation Sans, sans-serif" font-weight="bold" fill="#000" text-anchor="middle" >1.5</text>
<line x1="301.50" y1="506.60" x2="301.50" y2="510.60" stroke="#000" stroke-width="1.20"/>
<text x="301.50" y="523.90" font-size="10.30" font-family="Liberation Sans, sans-serif" font-weight="bold" fill="#000" text-anchor="middle" >2.0</text>
<text x="183.90" y="543.00" font-size="10.90" font-family="Liberation Sans, sans-serif" font-weight="bold" fill="#000" text-anchor="middle" >Gate Voltage (V)</text>
<text x="0" y="0" font-size="10.90" font-family="Liberation Sans, sans-serif" font-weight="bold" fill="#000" text-anchor="middle" transform="translate(22.20,401.30) rotate(-90)">Gain Bandwidth Product (GHz)</text>
<text x="0" y="0" font-size="10.90" font-family="Liberation Sans, sans-serif" font-weight="bold" fill="#ff0000" text-anchor="middle" transform="translate(355.60,401.60) rotate(-90)">Gain Bandwidth Product (GHz)</text>
<text x="3.30" y="291.00" font-size="15.60" font-family="Liberation Serif, serif" font-weight="bold" fill="#000" text-anchor="start" >(c)</text>
<rect x="262.40" y="303.30" width="39.40" height="16.40" fill="#ffffff" stroke="#bbbbbb" stroke-width="0.80"/>
<text x="263.70" y="315.20" font-size="10.20" font-family="Liberation Sans, sans-serif" font-weight="bold" fill="#000" text-anchor="start" word-spacing="-0.5">V<tspan font-size="7.4" dy="2.6">D</tspan><tspan dy="-2.6"> = 1 V</tspan></text>
<ellipse cx="147.3" cy="436.6" rx="4.4" ry="14.3" fill="none" stroke="#000" stroke-width="1"/>
<line x1="60.00" y1="437.10" x2="136.30" y2="437.10" stroke="#444" stroke-width="1.00"/>
<path d="M56.5,437.1 L62.5,434.6 L62.5,439.6Z" fill="#444"/>
<ellipse cx="267.3" cy="422.7" rx="5.0" ry="14.8" fill="none" stroke="#ff0000" stroke-width="1" transform="rotate(3 267.3 422.7)"/>
<line x1="273.60" y1="422.10" x2="306.00" y2="422.10" stroke="#ff0000" stroke-width="1.00"/>
<path d="M310.5,422.1 L304.5,419.6 L304.5,424.6Z" fill="#ff0000"/>
<defs><clipPath id="cd"><rect x="407.90" y="291.60" width="274.30" height="215.10"/></clipPath></defs>
<rect x="548.60" y="295.20" width="126.20" height="27.10" fill="#ffffff" stroke="#bbbbbb" stroke-width="0.90"/>
<line x1="549.90" y1="302.70" x2="573.40" y2="302.70" stroke="#9a00cc" stroke-width="1.60"/>
<path d="M561.70,298.50 L562.88,301.07 L565.69,301.40 L563.62,303.32 L564.17,306.10 L561.70,304.72 L559.23,306.10 L559.78,303.32 L557.71,301.40 L560.52,301.07Z" fill="#ee0a8a"/>
<text x="576.40" y="306.30" font-size="10.30" font-family="Liberation Sans, sans-serif" font-weight="bold" fill="#000" text-anchor="start" >A-SD-HJ-DD-UTFET</text>
<line x1="549.90" y1="315.50" x2="573.40" y2="315.50" stroke="#1ed21e" stroke-width="1.60"/>
<circle cx="561.70" cy="315.50" r="3.50" fill="#eee370"/>
<text x="576.40" y="319.10" font-size="10.30" font-family="Liberation Sans, sans-serif" font-weight="bold" fill="#000" text-anchor="start" >HJ-DD-UTFET</text>
<g clip-path="url(#cd)">
<path d="M420.40,300.10 L428.69,391.90 C431.45,391.90 434.22,391.90 436.98,391.90 C439.74,391.90 442.51,392.39 445.27,392.80 C448.03,393.21 450.80,394.06 453.56,394.80 C456.32,395.54 459.09,396.76 461.85,397.30 C464.61,397.84 467.38,398.03 470.14,398.50 C472.90,398.97 475.67,399.33 478.43,400.20 C481.19,401.07 483.96,403.16 486.72,405.90 C489.48,408.64 492.25,414.10 495.01,420.70 C497.77,427.30 500.54,441.54 503.30,450.60 C506.06,459.66 508.83,470.41 511.59,475.50 C514.35,480.59 517.12,483.80 519.88,486.50 C522.64,489.20 525.41,491.45 528.17,492.90 C530.93,494.35 533.70,495.34 536.46,496.20 C539.22,497.06 541.99,497.88 544.75,498.30 C547.51,498.72 550.28,499.02 553.04,499.20 C555.80,499.38 558.57,499.51 561.33,499.60 C564.09,499.69 566.86,499.80 569.62,499.80 C572.38,499.80 575.15,499.80 577.91,499.80 C580.67,499.80 583.44,499.80 586.20,499.80 C588.96,499.80 591.73,499.80 594.49,499.80 C597.25,499.80 600.02,499.80 602.78,499.80 C605.54,499.80 608.31,499.80 611.07,499.80 C613.83,499.80 616.60,499.80 619.36,499.80 C622.12,499.80 624.89,499.80 627.65,499.80 C630.41,499.80 633.18,499.80 635.94,499.80 C638.70,499.80 641.47,499.80 644.23,499.80 C646.99,499.80 649.76,499.80 652.52,499.80 C655.28,499.80 658.05,499.80 660.81,499.80 C663.57,499.80 666.34,499.80 669.10,499.80" fill="none" stroke="#9a00cc" stroke-width="1.60" stroke-linejoin="round"/>
<path d="M420.40,295.90 L421.58,298.47 L424.39,298.80 L422.32,300.72 L422.87,303.50 L420.40,302.12 L417.93,303.50 L418.48,300.72 L416.41,298.80 L419.22,298.47ZM428.69,387.70 L429.87,390.27 L432.68,390.60 L430.61,392.52 L431.16,395.30 L428.69,393.92 L426.22,395.30 L426.77,392.52 L424.70,390.60 L427.51,390.27ZM436.98,387.70 L438.16,390.27 L440.97,390.60 L438.90,392.52 L439.45,395.30 L436.98,393.92 L434.51,395.30 L435.06,392.52 L432.99,390.60 L435.80,390.27ZM445.27,388.60 L446.45,391.17 L449.26,391.50 L447.19,393.42 L447.74,396.20 L445.27,394.82 L442.80,396.20 L443.35,393.42 L441.28,391.50 L444.09,391.17ZM453.56,390.60 L454.74,393.17 L457.55,393.50 L455.48,395.42 L456.03,398.20 L453.56,396.82 L451.09,398.20 L451.64,395.42 L449.57,393.50 L452.38,393.17ZM461.85,393.10 L463.03,395.67 L465.84,396.00 L463.77,397.92 L464.32,400.70 L461.85,399.32 L459.38,400.70 L459.93,397.92 L457.86,396.00 L460.67,395.67ZM470.14,394.30 L471.32,396.87 L474.13,397.20 L472.06,399.12 L472.61,401.90 L470.14,400.52 L467.67,401.90 L468.22,399.12 L466.15,397.20 L468.96,396.87ZM478.43,396.00 L479.61,398.57 L482.42,398.90 L480.35,400.82 L480.90,403.60 L478.43,402.22 L475.96,403.60 L476.51,400.82 L474.44,398.90 L477.25,398.57ZM486.72,401.70 L487.90,404.27 L490.71,404.60 L488.64,406.52 L489.19,409.30 L486.72,407.92 L484.25,409.30 L484.80,406.52 L482.73,404.60 L485.54,404.27ZM495.01,416.50 L496.19,419.07 L499.00,419.40 L496.93,421.32 L497.48,424.10 L495.01,422.72 L492.54,424.10 L493.09,421.32 L491.02,419.40 L493.83,419.07ZM503.30,446.40 L504.48,448.97 L507.29,449.30 L505.22,451.22 L505.77,454.00 L503.30,452.62 L500.83,454.00 L501.38,451.22 L499.31,449.30 L502.12,448.97ZM511.59,471.30 L512.77,473.87 L515.58,474.20 L513.51,476.12 L514.06,478.90 L511.59,477.52 L509.12,478.90 L509.67,476.12 L507.60,474.20 L510.41,473.87ZM519.88,482.30 L521.06,484.87 L523.87,485.20 L521.80,487.12 L522.35,489.90 L519.88,488.52 L517.41,489.90 L517.96,487.12 L515.89,485.20 L518.70,484.87ZM528.17,488.70 L529.35,491.27 L532.16,491.60 L530.09,493.52 L530.64,496.30 L528.17,494.92 L525.70,496.30 L526.25,493.52 L524.18,491.60 L526.99,491.27ZM536.46,492.00 L537.64,494.57 L540.45,494.90 L538.38,496.82 L538.93,499.60 L536.46,498.22 L533.99,499.60 L534.54,496.82 L532.47,494.90 L535.28,494.57ZM544.75,494.10 L545.93,496.67 L548.74,497.00 L546.67,498.92 L547.22,501.70 L544.75,500.32 L542.28,501.70 L542.83,498.92 L540.76,497.00 L543.57,496.67ZM553.04,495.00 L554.22,497.57 L557.03,497.90 L554.96,499.82 L555.51,502.60 L553.04,501.22 L550.57,502.60 L551.12,499.82 L549.05,497.90 L551.86,497.57ZM561.33,495.40 L562.51,497.97 L565.32,498.30 L563.25,500.22 L563.80,503.00 L561.33,501.62 L558.86,503.00 L559.41,500.22 L557.34,498.30 L560.15,497.97ZM569.62,495.60 L570.80,498.17 L573.61,498.50 L571.54,500.42 L572.09,503.20 L569.62,501.82 L567.15,503.20 L567.70,500.42 L565.63,498.50 L568.44,498.17ZM577.91,495.60 L579.09,498.17 L581.90,498.50 L579.83,500.42 L580.38,503.20 L577.91,501.82 L575.44,503.20 L575.99,500.42 L573.92,498.50 L576.73,498.17ZM586.20,495.60 L587.38,498.17 L590.19,498.50 L588.12,500.42 L588.67,503.20 L586.20,501.82 L583.73,503.20 L584.28,500.42 L582.21,498.50 L585.02,498.17ZM594.49,495.60 L595.67,498.17 L598.48,498.50 L596.41,500.42 L596.96,503.20 L594.49,501.82 L592.02,503.20 L592.57,500.42 L590.50,498.50 L593.31,498.17ZM602.78,495.60 L603.96,498.17 L606.77,498.50 L604.70,500.42 L605.25,503.20 L602.78,501.82 L600.31,503.20 L600.86,500.42 L598.79,498.50 L601.60,498.17ZM611.07,495.60 L612.25,498.17 L615.06,498.50 L612.99,500.42 L613.54,503.20 L611.07,501.82 L608.60,503.20 L609.15,500.42 L607.08,498.50 L609.89,498.17ZM619.36,495.60 L620.54,498.17 L623.35,498.50 L621.28,500.42 L621.83,503.20 L619.36,501.82 L616.89,503.20 L617.44,500.42 L615.37,498.50 L618.18,498.17ZM627.65,495.60 L628.83,498.17 L631.64,498.50 L629.57,500.42 L630.12,503.20 L627.65,501.82 L625.18,503.20 L625.73,500.42 L623.66,498.50 L626.47,498.17ZM635.94,495.60 L637.12,498.17 L639.93,498.50 L637.86,500.42 L638.41,503.20 L635.94,501.82 L633.47,503.20 L634.02,500.42 L631.95,498.50 L634.76,498.17ZM644.23,495.60 L645.41,498.17 L648.22,498.50 L646.15,500.42 L646.70,503.20 L644.23,501.82 L641.76,503.20 L642.31,500.42 L640.24,498.50 L643.05,498.17ZM652.52,495.60 L653.70,498.17 L656.51,498.50 L654.44,500.42 L654.99,503.20 L652.52,501.82 L650.05,503.20 L650.60,500.42 L648.53,498.50 L651.34,498.17ZM660.81,495.60 L661.99,498.17 L664.80,498.50 L662.73,500.42 L663.28,503.20 L660.81,501.82 L658.34,503.20 L658.89,500.42 L656.82,498.50 L659.63,498.17ZM669.10,495.60 L670.28,498.17 L673.09,498.50 L671.02,500.42 L671.57,503.20 L669.10,501.82 L666.63,503.20 L667.18,500.42 L665.11,498.50 L667.92,498.17Z" fill="#ee0a8a"/>
<path d="M420.40,338.30 L428.69,412.60 C431.45,413.83 434.22,415.31 436.98,416.30 C439.74,417.29 442.51,418.08 445.27,418.80 C448.03,419.52 450.80,419.75 453.56,420.70 C456.32,421.65 459.09,424.19 461.85,426.40 C464.61,428.61 467.38,430.73 470.14,434.30 C472.90,437.87 475.67,444.78 478.43,450.90 C481.19,457.02 483.96,465.97 486.72,471.40 C489.48,476.83 492.25,481.80 495.01,484.90 C497.77,488.00 500.54,490.41 503.30,492.00 C506.06,493.59 508.83,494.66 511.59,495.60 C514.35,496.54 517.12,497.37 519.88,497.90 C522.64,498.43 525.41,498.72 528.17,499.10 C530.93,499.48 533.70,500.20 536.46,500.20 C539.22,500.20 541.99,500.20 544.75,500.20 C547.51,500.20 550.28,500.20 553.04,500.20 C555.80,500.20 558.57,500.20 561.33,500.20 C564.09,500.20 566.86,500.20 569.62,500.20 C572.38,500.20 575.15,500.20 577.91,500.20 C580.67,500.20 583.44,500.20 586.20,500.20 C588.96,500.20 591.73,500.20 594.49,500.20 C597.25,500.20 600.02,500.20 602.78,500.20 C605.54,500.20 608.31,500.20 611.07,500.20 C613.83,500.20 616.60,500.20 619.36,500.20 C622.12,500.20 624.89,500.20 627.65,500.20 C630.41,500.20 633.18,500.20 635.94,500.20 C638.70,500.20 641.47,500.20 644.23,500.20 C646.99,500.20 649.76,500.20 652.52,500.20 C655.28,500.20 658.05,500.20 660.81,500.20 C663.57,500.20 666.34,500.20 669.10,500.20" fill="none" stroke="#1ed21e" stroke-width="1.60" stroke-linejoin="round"/>
<circle cx="420.40" cy="338.30" r="3.50" fill="#eee370"/>
<circle cx="428.69" cy="412.60" r="3.50" fill="#eee370"/>
<circle cx="436.98" cy="416.30" r="3.50" fill="#eee370"/>
<circle cx="445.27" cy="418.80" r="3.50" fill="#eee370"/>
<circle cx="453.56" cy="420.70" r="3.50" fill="#eee370"/>
<circle cx="461.85" cy="426.40" r="3.50" fill="#eee370"/>
<circle cx="470.14" cy="434.30" r="3.50" fill="#eee370"/>
<circle cx="478.43" cy="450.90" r="3.50" fill="#eee370"/>
<circle cx="486.72" cy="471.40" r="3.50" fill="#eee370"/>
<circle cx="495.01" cy="484.90" r="3.50" fill="#eee370"/>
<circle cx="503.30" cy="492.00" r="3.50" fill="#eee370"/>
<circle cx="511.59" cy="495.60" r="3.50" fill="#eee370"/>
<circle cx="519.88" cy="497.90" r="3.50" fill="#eee370"/>
<circle cx="528.17" cy="499.10" r="3.50" fill="#eee370"/>
<circle cx="536.46" cy="500.20" r="3.50" fill="#eee370"/>
<circle cx="544.75" cy="500.20" r="3.50" fill="#eee370"/>
<circle cx="553.04" cy="500.20" r="3.50" fill="#eee370"/>
<circle cx="561.33" cy="500.20" r="3.50" fill="#eee370"/>
<circle cx="569.62" cy="500.20" r="3.50" fill="#eee370"/>
<circle cx="577.91" cy="500.20" r="3.50" fill="#eee370"/>
<circle cx="586.20" cy="500.20" r="3.50" fill="#eee370"/>
<circle cx="594.49" cy="500.20" r="3.50" fill="#eee370"/>
<circle cx="602.78" cy="500.20" r="3.50" fill="#eee370"/>
<circle cx="611.07" cy="500.20" r="3.50" fill="#eee370"/>
<circle cx="619.36" cy="500.20" r="3.50" fill="#eee370"/>
<circle cx="627.65" cy="500.20" r="3.50" fill="#eee370"/>
<circle cx="635.94" cy="500.20" r="3.50" fill="#eee370"/>
<circle cx="644.23" cy="500.20" r="3.50" fill="#eee370"/>
<circle cx="652.52" cy="500.20" r="3.50" fill="#eee370"/>
<circle cx="660.81" cy="500.20" r="3.50" fill="#eee370"/>
<circle cx="669.10" cy="500.20" r="3.50" fill="#eee370"/>
</g>
<rect x="407.90" y="291.60" width="274.30" height="215.10" fill="none" stroke="#000" stroke-width="1.8"/>
<line x1="403.40" y1="501.00" x2="407.90" y2="501.00" stroke="#000" stroke-width="1.20"/>
<text x="397.90" y="504.60" font-size="10.40" font-family="Liberation Sans, sans-serif" font-weight="bold" fill="#000" text-anchor="end" >0</text>
<line x1="403.40" y1="476.40" x2="407.90" y2="476.40" stroke="#000" stroke-width="1.20"/>
<text x="397.90" y="480.00" font-size="10.40" font-family="Liberation Sans, sans-serif" font-weight="bold" fill="#000" text-anchor="end" >20</text>
<line x1="403.40" y1="451.80" x2="407.90" y2="451.80" stroke="#000" stroke-width="1.20"/>
<text x="397.90" y="455.40" font-size="10.40" font-family="Liberation Sans, sans-serif" font-weight="bold" fill="#000" text-anchor="end" >40</text>
<line x1="403.40" y1="427.20" x2="407.90" y2="427.20" stroke="#000" stroke-width="1.20"/>
<text x="397.90" y="430.80" font-size="10.40" font-family="Liberation Sans, sans-serif" font-weight="bold" fill="#000" text-anchor="end" >60</text>
<line x1="403.40" y1="402.60" x2="407.90" y2="402.60" stroke="#000" stroke-width="1.20"/>
<text x="397.90" y="406.20" font-size="10.40" font-family="Liberation Sans, sans-serif" font-weight="bold" fill="#000" text-anchor="end" >80</text>
<line x1="403.40" y1="378.00" x2="407.90" y2="378.00" stroke="#000" stroke-width="1.20"/>
<text x="397.90" y="381.60" font-size="10.40" font-family="Liberation Sans, sans-serif" font-weight="bold" fill="#000" text-anchor="end" >100</text>
<line x1="403.40" y1="353.40" x2="407.90" y2="353.40" stroke="#000" stroke-width="1.20"/>
<text x="397.90" y="357.00" font-size="10.40" font-family="Liberation Sans, sans-serif" font-weight="bold" fill="#000" text-anchor="end" >120</text>
<line x1="403.40" y1="328.80" x2="407.90" y2="328.80" stroke="#000" stroke-width="1.20"/>
<text x="397.90" y="332.40" font-size="10.40" font-family="Liberation Sans, sans-serif" font-weight="bold" fill="#000" text-anchor="end" >140</text>
<line x1="403.40" y1="304.20" x2="407.90" y2="304.20" stroke="#000" stroke-width="1.20"/>
<text x="397.90" y="307.80" font-size="10.40" font-family="Liberation Sans, sans-serif" font-weight="bold" fill="#000" text-anchor="end" >160</text>
<line x1="420.50" y1="506.70" x2="420.50" y2="510.70" stroke="#000" stroke-width="1.20"/>
<text x="420.50" y="524.80" font-size="10.40" font-family="Liberation Sans, sans-serif" font-weight="bold" fill="#000" text-anchor="middle" >0.0</text>
<line x1="482.70" y1="506.70" x2="482.70" y2="510.70" stroke="#000" stroke-width="1.20"/>
<text x="482.70" y="524.80" font-size="10.40" font-family="Liberation Sans, sans-serif" font-weight="bold" fill="#000" text-anchor="middle" >0.5</text>
<line x1="544.90" y1="506.70" x2="544.90" y2="510.70" stroke="#000" stroke-width="1.20"/>
<text x="544.90" y="524.80" font-size="10.40" font-family="Liberation Sans, sans-serif" font-weight="bold" fill="#000" text-anchor="middle" >1.0</text>
<line x1="607.10" y1="506.70" x2="607.10" y2="510.70" stroke="#000" stroke-width="1.20"/>
<text x="607.10" y="524.80" font-size="10.40" font-family="Liberation Sans, sans-serif" font-weight="bold" fill="#000" text-anchor="middle" >1.5</text>
<line x1="669.30" y1="506.70" x2="669.30" y2="510.70" stroke="#000" stroke-width="1.20"/>
<text x="669.30" y="524.80" font-size="10.40" font-family="Liberation Sans, sans-serif" font-weight="bold" fill="#000" text-anchor="middle" >2.0</text>
<text x="544.90" y="543.20" font-size="11.70" font-family="Liberation Sans, sans-serif" font-weight="bold" fill="#000" text-anchor="middle" >Gate Voltage (V)</text>
<text x="0" y="0" font-size="11.10" font-family="Liberation Sans, sans-serif" font-weight="bold" fill="#000" text-anchor="middle" transform="translate(375.20,399.60) rotate(-90)">Device Efficiency (V<tspan font-size="7.6" dy="-4.8">-1</tspan><tspan dy="4.8">)</tspan></text>
<text x="350.30" y="287.00" font-size="15.60" font-family="Liberation Serif, serif" font-weight="bold" fill="#000" text-anchor="start" >(d)</text>
<rect x="627.50" y="472.70" width="42.10" height="17.00" fill="#ffffff" stroke="#bbbbbb" stroke-width="0.80"/>
<text x="629.00" y="484.50" font-size="10.30" font-family="Liberation Sans, sans-serif" font-weight="bold" fill="#000" text-anchor="start" word-spacing="-0.3">V<tspan font-size="7.6" dy="2.8">D</tspan><tspan dy="-2.8"> = 1 V</tspan></text>
</svg>
</body></html>
